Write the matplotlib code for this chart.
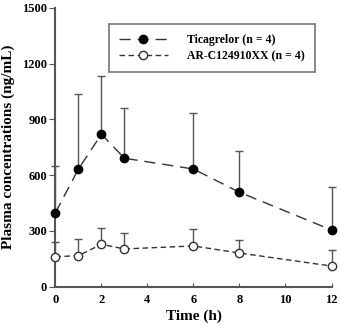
import matplotlib.pyplot as plt
import numpy as np

plt.rcParams['font.family'] = ['Liberation Serif', 'DejaVu Serif']
plt.rcParams['font.weight'] = 'bold'

time = [0, 1, 2, 3, 6, 8, 12]
tica_mean = [398, 633, 820, 691, 633, 508, 305]
tica_upper = [650, 1037, 1136, 960, 936, 732, 538]
ar_mean = [161, 167, 228, 203, 219, 181, 111]
ar_upper = [240, 255, 318, 287, 312, 251, 196]
xticks = [0, 2, 4, 6, 8, 10, 12]
yticks = [0, 300, 600, 900, 1200, 1500]

fig = plt.figure(figsize=(3.4, 3.28), dpi=100)
ax = fig.add_axes([0.163, 0.126, 0.812, 0.85])

gray = '#555555'
tica_err = [np.zeros(len(time)), np.array(tica_upper) - np.array(tica_mean)]
ar_err = [np.zeros(len(time)), np.array(ar_upper) - np.array(ar_mean)]

for m, e in [(tica_mean, tica_err), (ar_mean, ar_err)]:
    _, caps, bars = ax.errorbar(time, m, yerr=e, fmt='none', ecolor=gray,
                                elinewidth=1.0, capsize=3, capthick=1.0, zorder=2)
    for c in caps:
        c.set_clip_on(False)
    for b in bars:
        b.set_clip_on(False)

ax.plot(time, tica_mean, color='#333333', lw=1.0, dashes=(8, 5),
        marker='o', ms=6, mfc='black', mec='black',
        label='Ticagrelor (n = 4)', zorder=3, clip_on=False)
ax.plot(time, ar_mean, color='#333333', lw=1.0, dashes=(4, 2.5),
        marker='o', ms=6, mfc='white', mec='#333333', mew=1.0,
        label='AR-C124910XX (n = 4)', zorder=3, clip_on=False)

ax.set_xlim(0, 12)
ax.set_ylim(0, 1500)
ax.set_xticks(xticks)
ax.set_yticks(yticks)
ax.tick_params(axis='x', direction='in', length=3, color=gray, labelsize=9, pad=5)
ax.tick_params(axis='y', direction='out', length=4, color=gray, labelsize=9, pad=2)
for s in ['top', 'right']:
    ax.spines[s].set_visible(False)
for s in ['left', 'bottom']:
    ax.spines[s].set_color(gray)
    ax.spines[s].set_linewidth(1.5)

ax.set_xlabel('Time (h)', fontsize=11, fontweight='bold', labelpad=3)
ax.set_ylabel('Plasma concentrations (ng/mL)', fontsize=11, fontweight='bold', labelpad=5)

leg = ax.legend(loc='upper right', bbox_to_anchor=(0.961, 0.963), fontsize=8.5,
                frameon=True, fancybox=False, edgecolor=gray, handlelength=4.2,
                borderpad=0.85, labelspacing=0.35, handletextpad=1.6)
leg.get_frame().set_linewidth(1.2)

fig.savefig('out.png', dpi=100)
